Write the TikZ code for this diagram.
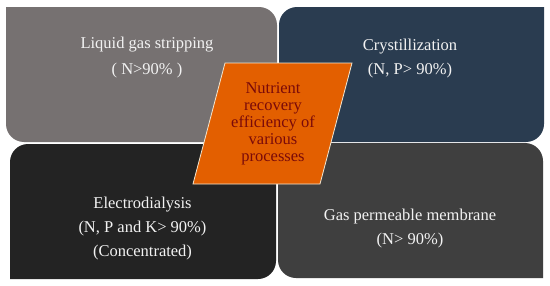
\documentclass[tikz,border=0pt]{standalone}
\usepackage{fontspec}
\setmainfont{Liberation Serif}
\begin{document}
\begin{tikzpicture}[x=1pt,y=1pt,
  lbl/.style={inner sep=0pt, align=center, text=white!95!black},
  ctr/.style={inner sep=0pt, align=center, text=centertext, font=\fontsize{16.5}{17}\selectfont}]
\definecolor{cgray}{HTML}{767171}
\definecolor{cblue}{HTML}{2A3C50}
\definecolor{cblack}{HTML}{232323}
\definecolor{cdark}{HTML}{3F3F3F}
\definecolor{corange}{HTML}{E35F00}
\definecolor{centertext}{HTML}{7A0A0A}
\definecolor{cedge}{HTML}{F2E6D0}
\useasboundingbox (0,0) rectangle (550,285);
\fill[white] (0,0) rectangle (550,285);
% top-left box
\fill[cgray] (6,278) -- (259,278) arc[start angle=90,end angle=0,radius=18] -- (277,143) -- (24,143) arc[start angle=270,end angle=180,radius=18] -- cycle;
% top-right box
\fill[cblue] (297,278) -- (544,278) -- (544,161) arc[start angle=0,end angle=-90,radius=18] -- (279,143) -- (279,260) arc[start angle=180,end angle=90,radius=18] -- cycle;
% bottom-left box
\fill[cblack] (28,141) -- (276,141) -- (276,24) arc[start angle=0,end angle=-90,radius=18] -- (10,6) -- (10,123) arc[start angle=180,end angle=90,radius=18] -- cycle;
% bottom-right box
\fill[cdark] (278,142) -- (525,142) arc[start angle=90,end angle=0,radius=18] -- (543,7) -- (296,7) arc[start angle=270,end angle=180,radius=18] -- cycle;
% centre parallelogram
\filldraw[fill=corange, draw=cedge, line width=0.8pt] (225,222) -- (352,222) -- (320,101) -- (193,101) -- cycle;
% texts
\node[lbl, font=\fontsize{16.5}{26}\selectfont] (tl) at (147,227) {Liquid gas stripping\\( N>90\% )};
\node[lbl, font=\fontsize{16.5}{24}\selectfont] (tr) at (410,226) {Crystillization\\(N, P> 90\%)};
\node[lbl, font=\fontsize{16.5}{24}\selectfont] (bl) at (142.5,56) {Electrodialysis\\(N, P and K> 90\%)\\(Concentrated)};
\node[lbl, font=\fontsize{16.5}{23.5}\selectfont] (br) at (410,56.5) {Gas permeable membrane\\(N> 90\%)};
\node[ctr] (c) at (273,161) {Nutrient\\recovery\\efficiency of\\various\\processes};
\end{tikzpicture}
\end{document}
